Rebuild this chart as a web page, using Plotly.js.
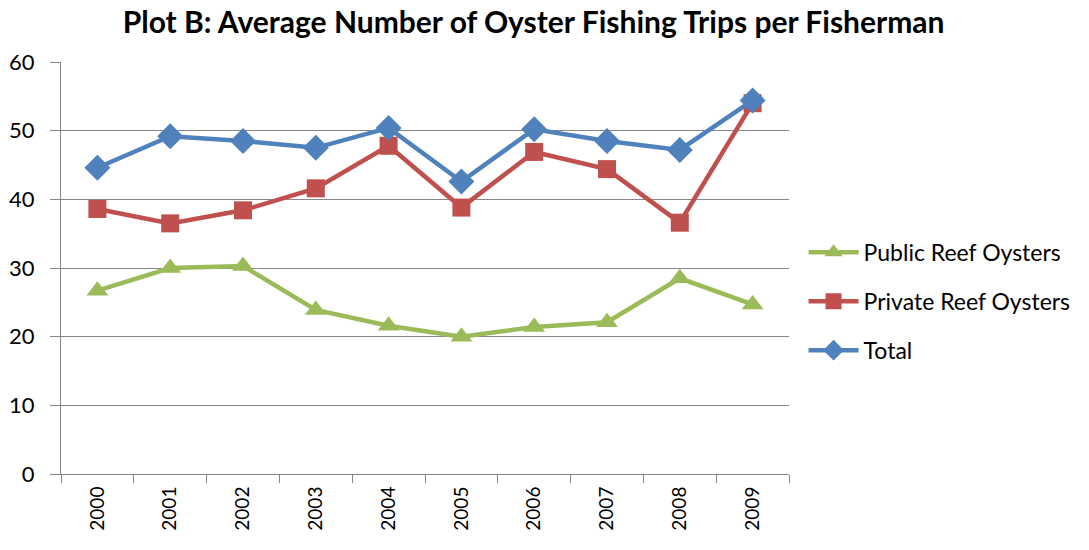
<!DOCTYPE html>
<html>
<head>
<meta charset="utf-8">
<script src="https://cdn.plot.ly/plotly-3.0.1.min.js"></script>
<style>
  html, body { margin: 0; padding: 0; background: #fff; }
  #chart { width: 1089px; height: 550px; }
</style>
</head>
<body>
<div id="chart"></div>
<script>
// Values
const years = ['2000', '2001', '2002', '2003', '2004', '2005', '2006', '2007', '2008', '2009'];
const publicReef = [26.7, 30.0, 30.3, 23.9, 21.6, 20.0, 21.4, 22.1, 28.5, 24.7];
const privateReef = [38.6, 36.5, 38.4, 41.6, 47.8, 38.8, 46.9, 44.4, 36.6, 54.0];
const totalTrips = [44.6, 49.2, 48.5, 47.5, 50.4, 42.6, 50.2, 48.5, 47.2, 54.4];

const fontFamily = 'Lato, "Open Sans", sans-serif';

// Line traces
const traces = [
    {
        x: years, y: publicReef, name: 'Public Reef Oysters',
        type: 'scatter', mode: 'lines+markers', legendgroup: 'a',
        line: { color: '#9BBB59', width: 4.5 },
        marker: { symbol: 'triangle-up', size: 19, color: '#9BBB59' }
    },
    {
        x: years, y: privateReef, name: 'Private Reef Oysters',
        type: 'scatter', mode: 'lines+markers', legendgroup: 'b',
        line: { color: '#C0504D', width: 4.5 },
        marker: { symbol: 'square', size: 18, color: '#C0504D' }
    },
    {
        x: years, y: totalTrips, name: 'Total',
        type: 'scatter', mode: 'lines+markers', legendgroup: 'c',
        line: { color: '#4F81BD', width: 4.5 },
        marker: { symbol: 'diamond', size: 20, color: '#4F81BD' }
    }
];

const layout = {
    width: 1089,
    height: 550,
    margin: { l: 61, r: 300, t: 62, b: 76 },
    paper_bgcolor: '#ffffff',
    plot_bgcolor: '#ffffff',
    font: { family: fontFamily, color: '#000000' },
    title: {
        text: '<b>Plot B: Average Number of Oyster Fishing Trips per Fisherman</b>',
        font: { family: fontFamily, size: 30, color: '#000000' },
        x: 0.49, xanchor: 'center',
        y: 0.96, yanchor: 'middle'
    },
    xaxis: {
        type: 'category',
        range: [-0.5, 9.5],
        tickson: 'boundaries',
        tickangle: -90,
        ticks: 'outside',
        ticklen: 8,
        tickcolor: '#868686',
        ticklabelstandoff: 4,
        showgrid: false,
        showline: true,
        linecolor: '#868686',
        linewidth: 1,
        tickfont: { family: fontFamily, size: 19, color: '#000000' },
        fixedrange: true
    },
    yaxis: {
        range: [0, 60],
        dtick: 10,
        ticks: 'outside',
        ticklen: 10,
        tickcolor: '#868686',
        ticklabelstandoff: 11,
        showgrid: true,
        gridcolor: '#868686',
        gridwidth: 1,
        zeroline: false,
        showline: true,
        linecolor: '#868686',
        linewidth: 1,
        tickfont: { family: fontFamily, size: 22, color: '#000000' },
        fixedrange: true
    },
    showlegend: true,
    legend: {
        x: 1.02, xanchor: 'left',
        y: 0.59, yanchor: 'top',
        font: { family: fontFamily, size: 23, color: '#000000' },
        tracegroupgap: 16,
        itemwidth: 50,
        bgcolor: 'rgba(0,0,0,0)'
    }
};

Plotly.newPlot('chart', traces, layout, { displayModeBar: false, staticPlot: true });
</script>
</body>
</html>
